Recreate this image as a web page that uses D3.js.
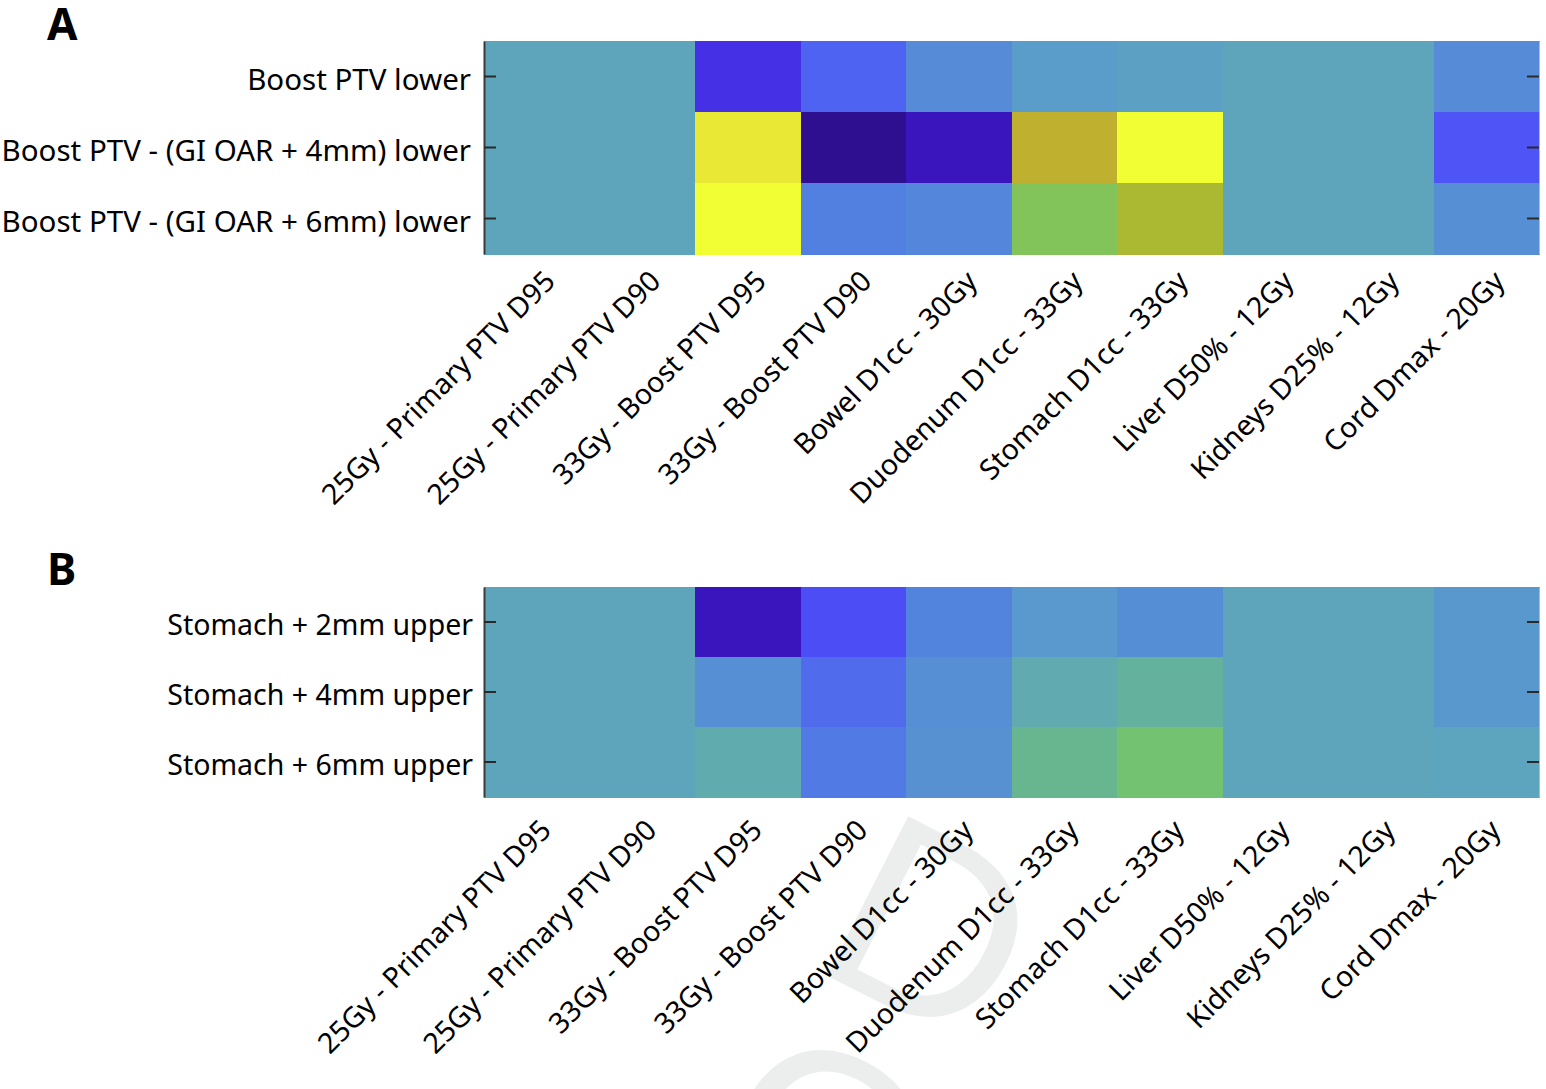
<!DOCTYPE html>
<html>
<head>
<meta charset="utf-8">
<script src="https://cdn.jsdelivr.net/npm/d3@7"></script>
<style>
  html, body { margin: 0; padding: 0; background: #ffffff; }
  svg { display: block; }
</style>
</head>
<body>
<svg id="chart" width="1546" height="1089"></svg>
<script>
// ---------------- data ----------------
const metricLabels = [
  "25Gy - Primary PTV D95", "25Gy - Primary PTV D90",
  "33Gy - Boost PTV D95", "33Gy - Boost PTV D90",
  "Bowel D1cc - 30Gy", "Duodenum D1cc - 33Gy",
  "Stomach D1cc - 33Gy", "Liver D50% - 12Gy",
  "Kidneys D25% - 12Gy", "Cord Dmax - 20Gy"
];
const rowsA = [
  "Boost PTV lower",
  "Boost PTV - (GI OAR + 4mm) lower",
  "Boost PTV - (GI OAR + 6mm) lower"
];
const rowsB = [
  "Stomach + 2mm upper",
  "Stomach + 4mm upper",
  "Stomach + 6mm upper"
];
// normalised change per cell (estimated from colour)
const valuesA = [
  [0, 0, -0.70, -0.45, -0.27, -0.12, -0.06, 0, 0, -0.27],
  [0, 0,  0.90, -1.00, -0.85,  0.80,  1.00, 0, 0, -0.52],
  [0, 0,  1.00, -0.35, -0.31,  0.55,  0.70, 0, 0, -0.24]
];
const valuesB = [
  [0, 0, -0.85, -0.55, -0.32, -0.15, -0.25, 0, 0, -0.16],
  [0, 0, -0.24, -0.42, -0.24,  0.13,  0.28, 0, 0, -0.16],
  [0, 0,  0.15, -0.37, -0.22,  0.34,  0.45, 0, 0, -0.02]
];
// colormap
const cmapStops  = [-1, -0.85, -0.7, -0.55, -0.45, -0.35, -0.25, -0.12, 0, 0.15, 0.3, 0.45, 0.55, 0.7, 0.8, 0.9, 1];
const cmapColors = ["#2e0f8f","#3a14bd","#4630e6","#4d4df6","#4f63f2","#5280e0","#568ed5","#5a9cca",
                    "#5ea5bc","#60abae","#65b29b","#72c272","#82c45a","#aab832","#c0b030","#e8e835","#f2fe34"];

// ---------------- layout ----------------
const svg = d3.select("#chart");
const color = d3.scaleLinear().domain(cmapStops).range(cmapColors).interpolate(d3.interpolateRgb).clamp(true);

const panels = [
  { letter: "A", rows: rowsA, values: valuesA, top: 41,  bottom: 254, letterY: 40,  yPad: 13, ySize: 29.5, xlDx: 13, xlDy: 22 },
  { letter: "B", rows: rowsB, values: valuesB, top: 587, bottom: 797, letterY: 585, yPad: 11, ySize: 28.5, xlDx: 9,  xlDy: 28 }
];
const left = 484, right = 1539;

// faint proof watermark fragments (behind everything, only below panel B)
const defs = svg.append("defs");
defs.append("clipPath").attr("id", "wmclip")
  .append("rect").attr("x", 0).attr("y", 799).attr("width", 1546).attr("height", 300);
const wm = svg.append("g").attr("clip-path", "url(#wmclip)")
  .attr("font-family", "'Liberation Sans', Arial, sans-serif")
  .attr("font-size", 260).attr("fill", "#eceeed");
wm.append("text").attr("transform", "translate(808,966) rotate(27)").text("D");
wm.append("text").attr("transform", "translate(694,1178) rotate(27)").text("O");

const x = d3.scaleBand().domain(metricLabels).range([left, right]).padding(0);

panels.forEach(p => {
  const g = svg.append("g");
  const y = d3.scaleBand().domain(p.rows).range([p.top, p.bottom]).padding(0);

  // cells
  const cells = [];
  p.values.forEach((row, i) => row.forEach((v, j) => cells.push({ r: p.rows[i], c: metricLabels[j], v })));
  g.append("g").selectAll("rect").data(cells).join("rect")
    .attr("x", d => x(d.c))
    .attr("y", d => y(d.r))
    .attr("width", x.bandwidth() + 0.5)
    .attr("height", y.bandwidth() + 0.5)
    .attr("fill", d => color(d.v))
    .attr("shape-rendering", "crispEdges");

  // left axis
  const ya = g.append("g").attr("transform", `translate(${left},0)`)
    .call(d3.axisLeft(y).tickSizeInner(-12).tickSizeOuter(0).tickPadding(p.yPad));
  ya.select(".domain").attr("stroke", "#3a3a3a").attr("stroke-width", 2);
  ya.selectAll(".tick line").attr("stroke", "#2a2a2a").attr("stroke-width", 2);
  ya.selectAll(".tick text")
    .attr("font-family", "'Noto Sans', 'Open Sans', sans-serif")
    .attr("font-size", p.ySize).attr("fill", "#000").attr("dy", "0.45em");

  // right axis (ticks only)
  const yr = g.append("g").attr("transform", `translate(${right},0)`)
    .call(d3.axisRight(y).tickSizeInner(-12).tickSizeOuter(0).tickFormat(""));
  yr.select(".domain").attr("stroke", "#9fc3d6").attr("stroke-width", 1);
  yr.selectAll(".tick line").attr("stroke", "#2a2a2a").attr("stroke-width", 2);

  // bottom axis labels
  const xa = g.append("g").attr("transform", `translate(0,${p.bottom})`)
    .call(d3.axisBottom(x).tickSize(0));
  xa.select(".domain").remove();
  xa.selectAll(".tick text")
    .attr("font-family", "'Noto Sans', 'Open Sans', sans-serif")
    .attr("font-size", 28.5).attr("fill", "#000")
    .attr("x", 0).attr("y", 0).attr("dy", "0.35em")
    .attr("text-anchor", "end")
    .attr("transform", `translate(${p.xlDx},${p.xlDy}) rotate(-45)`);

  // panel letter
  svg.append("text").attr("x", 47).attr("y", p.letterY)
    .attr("font-family", "'Noto Sans', 'Liberation Sans', sans-serif")
    .attr("font-weight", "bold").attr("font-size", 44).attr("fill", "#000")
    .text(p.letter);
});
</script>
</body>
</html>
